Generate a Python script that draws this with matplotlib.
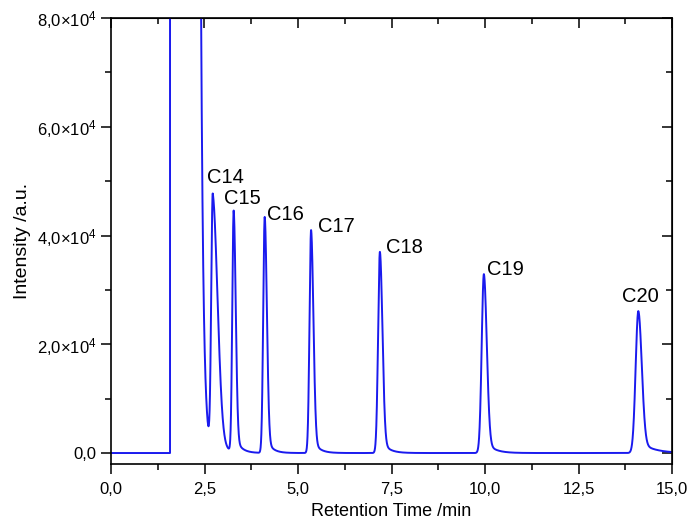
import numpy as np
import matplotlib
matplotlib.use("Agg")
import matplotlib.pyplot as plt
from matplotlib.ticker import MultipleLocator, FuncFormatter

plt.rcParams['font.family'] = ['Liberation Sans', 'DejaVu Sans']
plt.rcParams['mathtext.fontset'] = 'custom'
plt.rcParams['mathtext.rm'] = 'Liberation Sans'
plt.rcParams['mathtext.it'] = 'Liberation Sans:italic'

# ---- data ----
peak_names = ["C14", "C15", "C16", "C17", "C18", "C19", "C20"]
peak_times = [2.72, 3.28, 4.11, 5.35, 7.19, 9.97, 14.10]          # min
peak_heights = [47000, 44300, 43400, 41000, 37000, 32900, 26100]  # a.u.
peak_rise = [0.040, 0.037, 0.040, 0.042, 0.048, 0.058, 0.072]     # left width (min)
peak_fall = [0.13, 0.055, 0.058, 0.062, 0.068, 0.078, 0.092]      # right width (min)
peak_tail = [0.20, 0.15, 0.15, 0.16, 0.18, 0.22, 0.35]           # tail decay (min)
tail_frac = [0.10, 0.08, 0.08, 0.08, 0.08, 0.08, 0.09]

solvent_start = 1.58     # vertical rise of the solvent peak
solvent_exit = 2.41      # where the solvent tail crosses 8.0e4
solvent_exit_level = 80000
solvent_tau = 0.066

# label anchor (left / baseline) in data coordinates
label_x = [2.57, 3.02, 4.16, 5.53, 7.34, 10.05, 13.65]
label_y = [49650, 45730, 42850, 40700, 36840, 32740, 27830]

# ---- build trace ----
t = np.arange(0.0, 15.0001, 0.002)
y = np.zeros_like(t)
m = t >= solvent_start
y[m] += solvent_exit_level * np.exp(-(t[m] - solvent_exit) / solvent_tau)
for tp, h, sl, sr, tau, a in zip(peak_times, peak_heights, peak_rise, peak_fall, peak_tail, tail_frac):
    left = t < tp
    d = t - tp
    shape = np.where(left, np.exp(-0.5 * (d / sl) ** 2),
                     (1 - a) * np.exp(-0.5 * (d / sr) ** 2) + a * np.exp(-np.clip(d, 0, None) / tau))
    y += h * shape

fig = plt.figure(figsize=(6.92, 5.26), dpi=100)
ax = fig.add_axes([111 / 692, 1 - 464 / 526, (672 - 111) / 692, (464 - 18) / 526])
ax.plot(t, y, color='#1a1aee', lw=1.4)
ax.set_xlim(0, 15)
ax.set_ylim(-2020, 80000)

for name, lx, ly in zip(peak_names, label_x, label_y):
    ax.text(lx, ly, name, fontsize=14.5, ha='left', va='baseline')

ax.xaxis.set_major_locator(MultipleLocator(2.5))
ax.xaxis.set_minor_locator(MultipleLocator(1.25))
ax.yaxis.set_major_locator(MultipleLocator(20000))
ax.yaxis.set_minor_locator(MultipleLocator(10000))
ax.xaxis.set_major_formatter(FuncFormatter(lambda v, p: f"{v:.1f}".replace('.', ',')))

def yfmt(v, p):
    if abs(v) < 1e-9:
        return "0,0"
    return (f"{v/1e4:.1f}".replace('.', ',')) + "\u00d710" + r"$^{4}$"
ax.yaxis.set_major_formatter(FuncFormatter(yfmt))

ax.tick_params(axis='both', which='major', direction='out', length=7, width=1.1, labelsize=12)
ax.tick_params(axis='both', which='minor', direction='out', length=4, width=1.1)
ax.tick_params(axis='x', which='major', pad=6)
for s in ax.spines.values():
    s.set_linewidth(1.2)

# inward ticks on top and right
axt = ax.secondary_xaxis('top')
axt.xaxis.set_major_locator(MultipleLocator(2.5))
axt.xaxis.set_minor_locator(MultipleLocator(1.25))
axt.tick_params(which='major', direction='in', length=7, width=1.1, labeltop=False)
axt.tick_params(which='minor', direction='in', length=4, width=1.1)
axr = ax.secondary_yaxis('right')
axr.yaxis.set_major_locator(MultipleLocator(20000))
axr.yaxis.set_minor_locator(MultipleLocator(10000))
axr.tick_params(which='major', direction='in', length=7, width=1.1, labelright=False)
axr.tick_params(which='minor', direction='in', length=4, width=1.1)

ax.set_xlabel("Retention Time /min", fontsize=13, labelpad=4)
ax.set_ylabel("Intensity /a.u.", fontsize=14)
ax.yaxis.set_label_coords(-0.143, 0.5)

fig.savefig("out.png", dpi=100)
